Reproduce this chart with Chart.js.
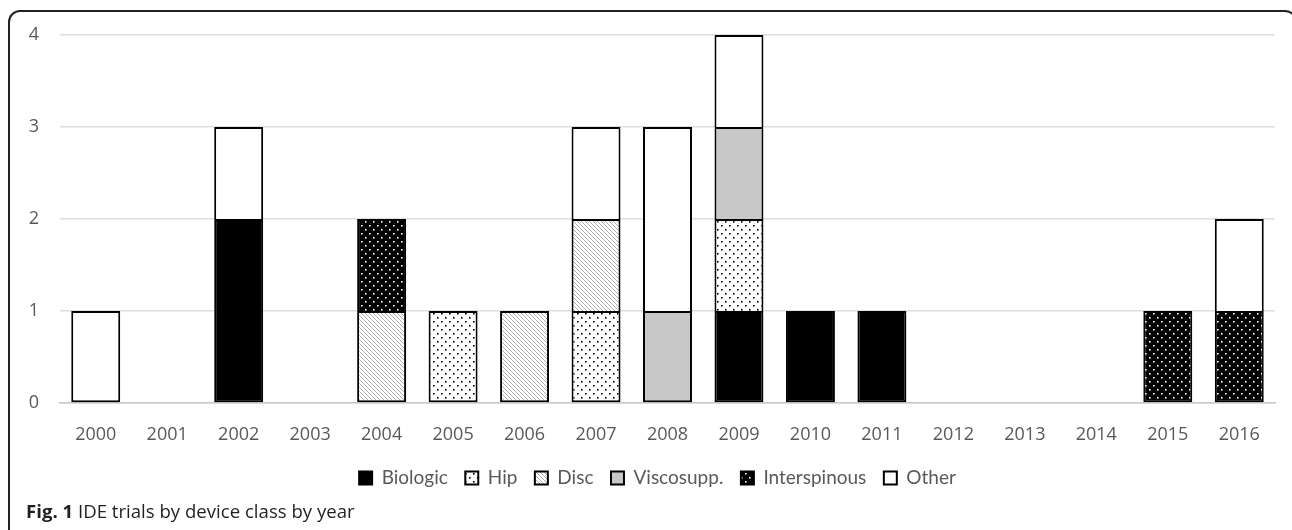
<!DOCTYPE html>
<html>
<head>
<meta charset="utf-8">
<script src="https://cdn.jsdelivr.net/npm/chart.js@4/dist/chart.umd.min.js"></script>
<style>
  html, body { margin: 0; padding: 0; background: #fff; overflow: hidden; }
  #wrap { position: relative; width: 1292px; height: 530px; overflow: hidden; }
  #frame {
    position: absolute; left: 8px; top: 10px; width: 1289px; height: 600px;
    border-left: 2px solid #222; border-top: 2px solid #222; border-right: 2px solid #222;
    border-radius: 12px 12px 0 0; box-sizing: border-box;
  }
  canvas { position: absolute; left: 0; top: 0; }
  #caption {
    position: absolute; left: 26px; top: 498px;
    font-family: "Open Sans", sans-serif; font-size: 18.6px; color: #231f20; white-space: nowrap;
  }
  #caption b { font-weight: 700; }
</style>
</head>
<body>
<div id="wrap">
  <div id="frame"></div>
  <canvas id="chart" width="1292" height="530"></canvas>
  <div id="caption"><b>Fig. 1</b> IDE trials by device class by year</div>
</div>
<script>
// Years on the x axis
const years = ['2000','2001','2002','2003','2004','2005','2006','2007','2008','2009','2010','2011','2012','2013','2014','2015','2016'];

// Number of IDE trials per device class per year
const biologic     = [0,0,2,0,0,0,0,0,0,1,1,1,0,0,0,0,0];
const hip          = [0,0,0,0,0,1,0,1,0,1,0,0,0,0,0,0,0];
const disc         = [0,0,0,0,1,0,1,1,0,0,0,0,0,0,0,0,0];
const viscosupp    = [0,0,0,0,0,0,0,0,1,1,0,0,0,0,0,0,0];
const interspinous = [0,0,0,0,1,0,0,0,0,0,0,0,0,0,0,1,1];
const other        = [1,0,1,0,0,0,0,1,2,1,0,0,0,0,0,0,1];

const yTicks = [0, 1, 2, 3, 4];

// Stack order, bottom to top
const stackOrder = [biologic, hip, disc, viscosupp, interspinous, other];

// Fill patterns built on small offscreen tiles
function dotPattern(bg, fg) {
  const c = document.createElement('canvas');
  c.width = 8; c.height = 8;
  const g = c.getContext('2d');
  g.fillStyle = bg; g.fillRect(0, 0, 8, 8);
  g.fillStyle = fg;
  g.fillRect(1, 1, 1.6, 1.6);
  g.fillRect(5, 5, 1.6, 1.6);
  return g.createPattern(c, 'repeat');
}
function hatchPattern() {
  const c = document.createElement('canvas');
  c.width = 4; c.height = 4;
  const g = c.getContext('2d');
  g.fillStyle = '#ffffff'; g.fillRect(0, 0, 4, 4);
  g.strokeStyle = '#b0b0b0'; g.lineWidth = 1;
  g.beginPath();
  g.moveTo(-1, -1); g.lineTo(5, 5);
  g.moveTo(-1, 3); g.lineTo(1, 5);
  g.moveTo(3, -1); g.lineTo(5, 1);
  g.stroke();
  return g.createPattern(c, 'repeat');
}

const fills = {
  biologic: '#000000',
  hip: dotPattern('#ffffff', '#000000'),
  disc: hatchPattern(),
  viscosupp: '#c8c8c8',
  interspinous: dotPattern('#000000', '#ffffff'),
  other: '#ffffff'
};

// A segment resting on another one leaves its bottom edge to the segment below,
// so shared edges are drawn once instead of twice
function restsOnSegment(dsIndex, i) {
  for (let k = 0; k < dsIndex; k++) if (stackOrder[k][i] > 0) return true;
  return false;
}

// Empty years get no segment at all (null), so no stray outlines are stroked
function series(label, values, fill) {
  return {
    label,
    data: values.map(v => (v > 0 ? v : null)),
    backgroundColor: fill,
    borderColor: '#000000',
    borderWidth: 2,
    borderSkipped: (ctx) => (ctx.type === 'data' && restsOnSegment(ctx.datasetIndex, ctx.dataIndex)) ? 'start' : false,
    categoryPercentage: 1,
    barPercentage: 0.685
  };
}

// Nudge the legend row a little to the right of the plot centre
const legendShift = {
  id: 'legendShift',
  afterUpdate(chart) {
    if (chart.legend) { chart.legend.left += 15; chart.legend.right += 15; }
  }
};

new Chart(document.getElementById('chart'), {
  type: 'bar',
  data: {
    labels: years,
    datasets: [
      series('Biologic', biologic, fills.biologic),
      series('Hip', hip, fills.hip),
      series('Disc', disc, fills.disc),
      series('Viscosupp.', viscosupp, fills.viscosupp),
      series('Interspinous', interspinous, fills.interspinous),
      series('Other', other, fills.other)
    ]
  },
  plugins: [legendShift],
  options: {
    responsive: false,
    animation: false,
    layout: { padding: { left: 10, right: 17, top: 35, bottom: 32.5 } },
    plugins: {
      tooltip: { enabled: false },
      legend: {
        position: 'bottom',
        labels: {
          font: { family: 'Lato', size: 19 },
          color: '#595959',
          boxWidth: 13,
          boxHeight: 13,
          padding: 17.5,
          useBorderRadius: false
        }
      }
    },
    scales: {
      x: {
        stacked: true,
        grid: { display: false, drawTicks: false },
        border: { display: true, color: '#c8c8c8', width: 1.5 },
        ticks: { font: { family: 'Open Sans', size: 18 }, color: '#595959', padding: 21, maxRotation: 0 },
        afterFit: (s) => { s.height = 48; }
      },
      y: {
        stacked: true,
        min: 0, max: 4,
        afterBuildTicks: (s) => { s.ticks = yTicks.map(v => ({ value: v })); },
        grid: { color: '#dedede', lineWidth: 1.5, drawTicks: false },
        border: { display: false },
        ticks: { font: { family: 'Open Sans', size: 18 }, color: '#595959', padding: 21 },
        afterFit: (s) => { s.width = 50; }
      }
    }
  }
});
</script>
</body>
</html>
